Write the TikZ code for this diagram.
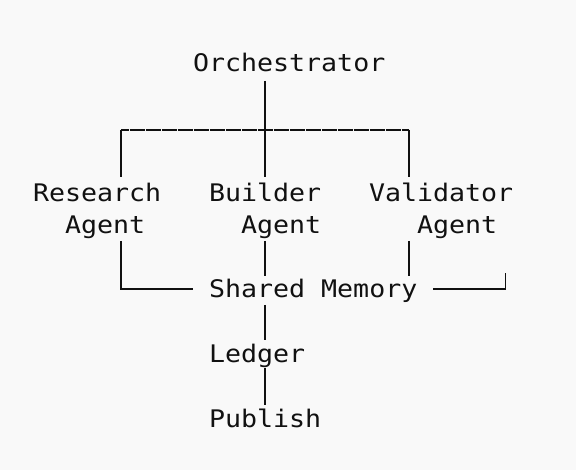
\documentclass[tikz,border=0pt]{standalone}
\usepackage{fontspec}
\setmonofont[FakeStretch=1.1]{DejaVu Sans Mono}
\usetikzlibrary{calc}
\definecolor{bg}{HTML}{F9F9F9}
\definecolor{ink}{HTML}{111111}
\begin{document}
\begin{tikzpicture}[x=1pt,y=1pt,
  lbl/.style={anchor=base west, inner sep=0pt, outer sep=0pt, align=left,
    font=\ttfamily\fontsize{24.2}{32.3}\selectfont, text=ink},
  conn/.style={draw=ink, line width=1.7pt},
  topline/.style={conn, dash pattern=on 15pt off 1pt, dash phase=7.5pt}]
\fill[bg] (0,0) rectangle (576,470);
\useasboundingbox (0,0) rectangle (576,470);
% nodes (base = baseline of the last line)
\node[lbl] (orch) at (193,398) {Orchestrator};
\node[lbl] (research) at (33,236.5) {Research\\\phantom{Re}Agent};
\node[lbl] (builder) at (209,236.5) {Builder\\\phantom{Bu}Agent};
\node[lbl] (validator) at (369,236.5) {Validator\\\phantom{Val}Agent};
\node[lbl] (shared) at (209,172) {Shared Memory};
\node[lbl] (ledger) at (209,107.3) {Ledger};
\node[lbl] (publish) at (209,42.7) {Publish};
% connectors
\draw[conn] ($(orch.base -| builder.base)+(0,-9)$) -- ($(builder.base)+(0,56.5)$);
\draw[topline] ($(research.base)+(24,103.5)$) -- ($(validator.base)+(-32,103.5)$);
\draw[conn] ($(research.base)+(24,103.5)$) -- ($(research.base)+(24,56.5)$);
\draw[conn] ($(validator.base)+(-32,103.5)$) -- ($(validator.base)+(-32,56.5)$);
\draw[conn] ($(research.base)+(24,-7.5)$) |- ($(shared.base west)+(-16,9)$);
\draw[conn] ($(builder.base)+(0,-7.5)$) -- ($(shared.base -| builder.base)+(0,22)$);
\draw[conn] ($(validator.base)+(-32,-7.5)$) -- ($(validator.base)+(-32,-42.5)$);
\draw[conn] ($(shared.base east)+(16,9)$) -| ($(shared.base east)+(88,25)$);
\draw[conn] ($(shared.base -| builder.base)+(0,-7)$) -- ($(ledger.base -| builder.base)+(0,23)$);
\draw[conn] ($(ledger.base -| builder.base)+(0,-5.3)$) -- ($(publish.base -| builder.base)+(0,22)$);
\end{tikzpicture}
\end{document}
